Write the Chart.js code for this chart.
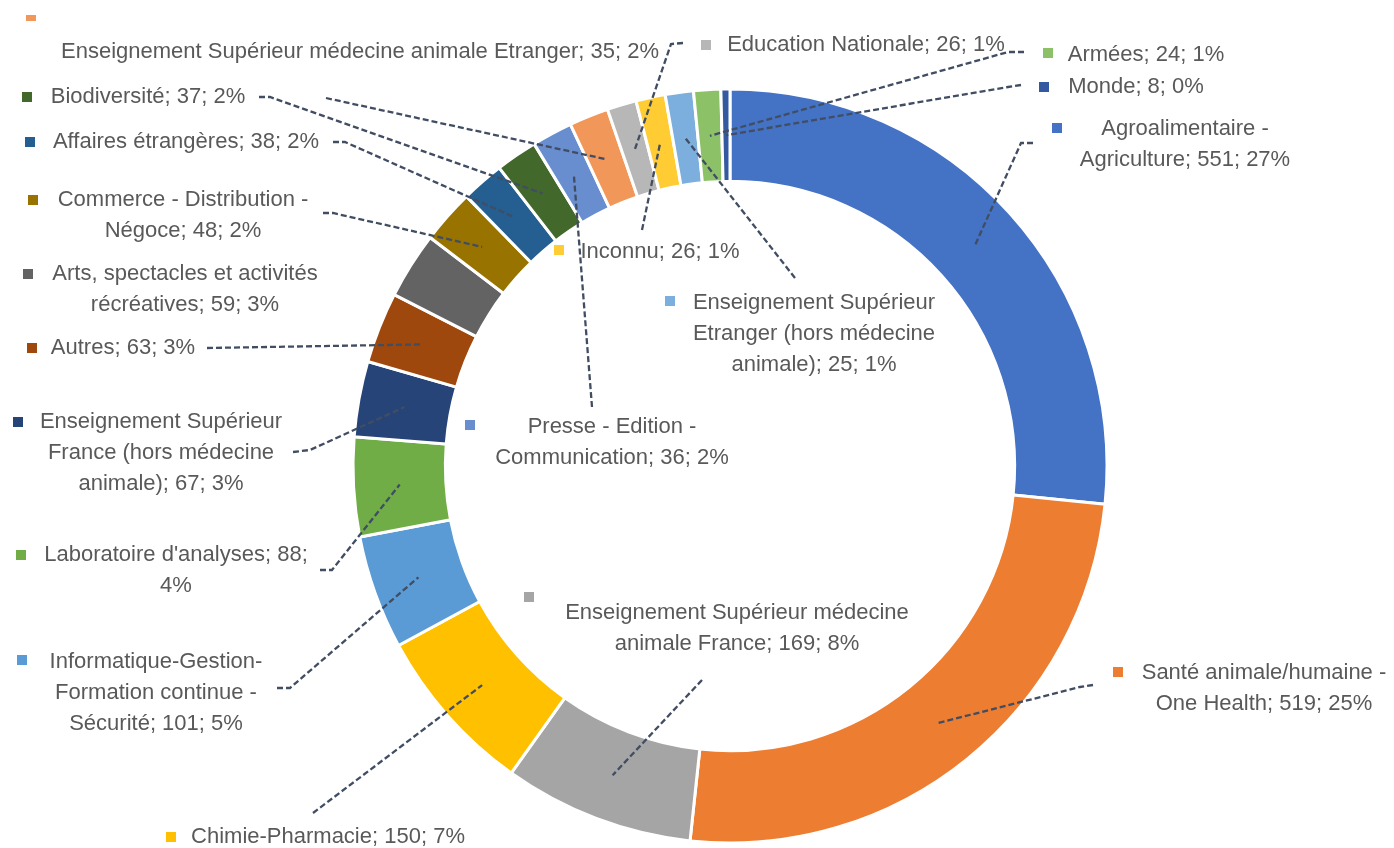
<!DOCTYPE html>
<html>
<head>
<meta charset="utf-8">
<script src="https://cdn.jsdelivr.net/npm/chart.js@4.4.0/dist/chart.umd.min.js"></script>
<style>
html,body{margin:0;padding:0;background:#fff;}
#wrap{width:1394px;height:848px;position:relative;}
</style>
</head>
<body>
<div id="wrap"><canvas id="c" width="1394" height="848"></canvas></div>
<script>
// ---- data ----
const categories = [
  "Agroalimentaire - Agriculture",
  "Santé animale/humaine - One Health",
  "Enseignement Supérieur médecine animale France",
  "Chimie-Pharmacie",
  "Informatique-Gestion-Formation continue - Sécurité",
  "Laboratoire d'analyses",
  "Enseignement Supérieur France (hors médecine animale)",
  "Autres",
  "Arts, spectacles et activités récréatives",
  "Commerce - Distribution - Négoce",
  "Affaires étrangères",
  "Biodiversité",
  "Presse - Edition - Communication",
  "Enseignement Supérieur médecine animale Etranger",
  "Education Nationale",
  "Inconnu",
  "Enseignement Supérieur Etranger (hors médecine animale)",
  "Armées",
  "Monde"
];
const values = [551, 519, 169, 150, 101, 88, 67, 63, 59, 48, 38, 37, 36, 35, 26, 26, 25, 24, 8];
const colors = [
  "#4472C4", "#ED7D31", "#A5A5A5", "#FFC000", "#5B9BD5", "#70AD47",
  "#264478", "#9E480E", "#636363", "#997300", "#255E91", "#43682B",
  "#698ED0", "#F1975A", "#B7B7B7", "#FFCD33", "#7CAFDD", "#8CC168", "#335AA1"
];

// ---- label layout (placement only) ----
// cx: centre of text block, y: first line, br: break after these substrings,
// key: legend-key position, lead: leader start points (ends at the slice)
const labelLayout = [
  {cx:1185, y:129, br:["Agroalimentaire -"], key:[1057,128], lead:[[1033,143],[1021,143]]},
  {cx:1264, y:673, br:["humaine -"], key:[1118,672], lead:[[1093,685],[1080,687]]},
  {cx:737, y:613, br:["médecine"], key:[529,597], lead:[[702,680]]},
  {cx:328, y:837, br:[], key:[171,837], lead:[[313,813]]},
  {cx:156, y:662, br:["Gestion-","continue -"], key:[22,660], lead:[[277,688],[290,688]]},
  {cx:176, y:555, br:["88;"], key:[21,555], lead:[[320,570],[332,570]]},
  {cx:161, y:422, br:["Supérieur","médecine"], key:[18,422], lead:[[293,452],[310,450]]},
  {cx:123, y:348, br:[], key:[32,348], lead:[[207,348]]},
  {cx:185, y:274, br:["activités"], key:[28,274], lead:null},
  {cx:183, y:200, br:["Distribution -"], key:[33,200], lead:[[323,213],[333,213]]},
  {cx:186, y:142, br:[], key:[30,142], lead:[[333,142],[345,142]]},
  {cx:148, y:97, br:[], key:[27,97], lead:[[259,97],[270,97]]},
  {cx:612, y:427, br:["Edition -"], key:[470,425], lead:[[592,407]]},
  {cx:360, y:52, br:[], key:[31,18], keyH:6, lead:[[326,98]]},
  {cx:866, y:45, br:[], key:[706,45], lead:[[683,43],[671,44]]},
  {cx:660, y:252, br:[], key:[559,250], lead:[[642,230]]},
  {cx:814, y:303, br:["Supérieur","médecine"], key:[670,301], lead:[[795,278]]},
  {cx:1146, y:55, br:[], key:[1048,53], lead:[[1024,52],[1008,52]]},
  {cx:1136, y:87, br:[], key:[1044,87], lead:[[1021,85],[1008,87]]}
];

const total = values.reduce((a, b) => a + b, 0);

function splitLines(str, breaks) {
  const out = [];
  let rest = str;
  for (const b of breaks) {
    const i = rest.indexOf(b);
    if (i < 0) continue;
    out.push(rest.slice(0, i + b.length).trim());
    rest = rest.slice(i + b.length).trim();
  }
  out.push(rest);
  return out;
}

const labelPlugin = {
  id: 'excelLabels',
  afterDatasetsDraw(chart) {
    const ctx = chart.ctx;
    const meta = chart.getDatasetMeta(0);
    ctx.save();
    // leader lines
    ctx.strokeStyle = '#404D62';
    ctx.lineWidth = 2.3;
    ctx.setLineDash([6, 3]);
    meta.data.forEach((arc, i) => {
      const L = labelLayout[i];
      if (!L.lead) return;
      const c = arc.getCenterPoint();
      ctx.beginPath();
      ctx.moveTo(L.lead[0][0], L.lead[0][1]);
      for (let k = 1; k < L.lead.length; k++) ctx.lineTo(L.lead[k][0], L.lead[k][1]);
      ctx.lineTo(c.x, c.y);
      ctx.stroke();
    });
    ctx.setLineDash([]);
    // text + keys
    ctx.font = '22px "Liberation Sans", Arial, sans-serif';
    ctx.textAlign = 'center';
    ctx.textBaseline = 'middle';
    const lh = 31;
    categories.forEach((name, i) => {
      const L = labelLayout[i];
      const pct = Math.round(values[i] / total * 100);
      const txt = name + '; ' + values[i] + '; ' + pct + '%';
      const lines = splitLines(txt, L.br);
      ctx.fillStyle = colors[i];
      const kh = L.keyH || 10;
      ctx.fillRect(L.key[0] - 5, L.key[1] - kh / 2, 10, kh);
      ctx.fillStyle = '#595959';
      lines.forEach((ln, k) => ctx.fillText(ln, L.cx, L.y + k * lh));
    });
    ctx.restore();
  }
};

new Chart(document.getElementById('c'), {
  type: 'doughnut',
  data: {
    labels: categories,
    datasets: [{
      data: values,
      backgroundColor: colors,
      borderColor: '#ffffff',
      borderWidth: 3
    }]
  },
  options: {
    responsive: false,
    animation: false,
    radius: 377,
    cutout: '75.5%',
    layout: {padding: {left: 100, right: 34, top: 94, bottom: 10}},
    plugins: {legend: {display: false}, tooltip: {enabled: false}}
  },
  plugins: [labelPlugin]
});
</script>
</body>
</html>
